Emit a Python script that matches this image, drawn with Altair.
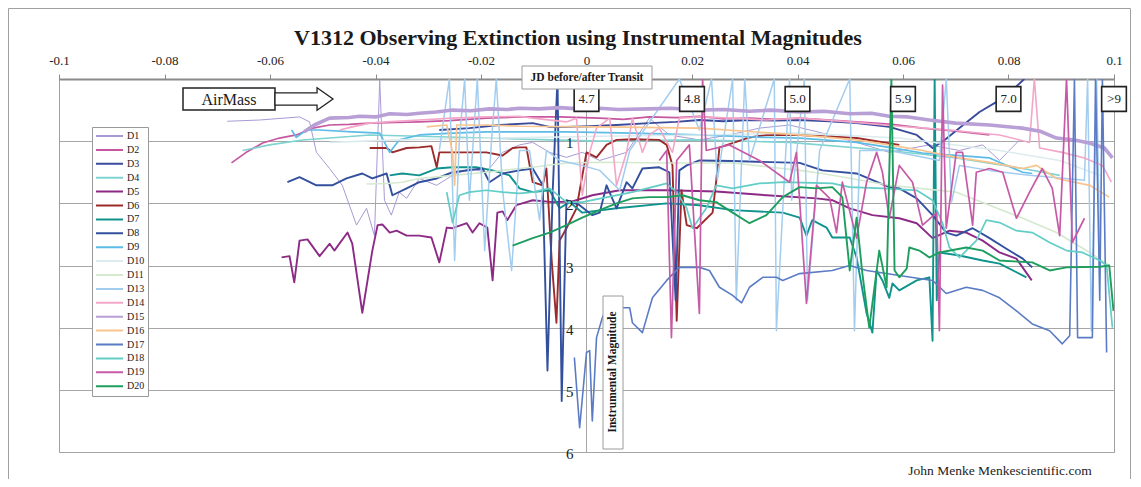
import altair as alt
import pandas as pd

# ---------------- data ----------------
series = ["D1", "D2", "D3", "D4", "D5", "D6", "D7", "D8", "D9", "D10",
          "D11", "D13", "D14", "D15", "D16", "D17", "D18", "D19", "D20"]
colors = ["#a99ad6", "#c7579f", "#3b4b9c", "#7fd3d0", "#8c2a86", "#9c2a2a",
          "#0f938c", "#33509e", "#5cbce6", "#dcecee", "#d5e9cf", "#a3cdef",
          "#f2a6c8", "#b89fd6", "#f8c48e", "#5b7cc5", "#63cdc6", "#c65aa6", "#1e9e5e"]
widths = [1.0, 1.7, 1.9, 1.6, 1.9, 1.9, 1.9, 1.9, 1.7, 1.6,
          1.6, 1.5, 1.6, 3.6, 1.7, 1.6, 1.7, 1.7, 1.9]

d1_x = [-0.0681, -0.0620, -0.0544, -0.0525, -0.0512, -0.0487, -0.0463, -0.0436, -0.0417, -0.0402,
        -0.0392, -0.0383, -0.0370, -0.0355, -0.0341, -0.0317, -0.0284, -0.0254, -0.0222, -0.0190,
        -0.0159, -0.0127, -0.0102, -0.0070, -0.0038, -0.0008, 0.0025, 0.0076, 0.0119, 0.0157,
        0.0214, 0.0271, 0.0328, 0.0385, 0.0461, 0.0512, 0.0574, 0.0650, 0.0707, 0.0751, 0.0783, 0.0821]
d1_y = [0.68, 0.66, 0.61, 0.69, 1.18, 1.44, 1.71, 2.35, 2.08, 2.52,
        0.02, 1.95, 2.19, 1.82, 1.92, 1.60, 1.71, 1.55, 1.44, 1.50,
        1.18, 1.06, 1.02, 1.18, 1.26, 1.18, 1.31, 1.18, 0.63, 0.90,
        0.98, 0.90, 0.79, 0.74, 0.90, 1.02, 1.18, 1.06, 1.15, 1.06, 1.31, 0.98]

d2_x = [-0.0673, -0.0645, -0.0614, -0.0582, -0.0550, -0.0519, -0.0487, -0.0450, -0.0411, -0.0360,
        -0.0317, -0.0260, -0.0190, -0.0127, -0.0051, 0.0025, 0.0070, 0.0119, 0.0170, 0.0214,
        0.0260, 0.0309, 0.0360, 0.0404, 0.0512, 0.0580, 0.0637, 0.0700, 0.0764]
d2_y = [1.35, 1.18, 1.03, 0.95, 0.90, 0.79, 0.74, 0.73, 0.71, 0.70,
        0.69, 0.67, 0.63, 0.61, 0.61, 0.63, 0.65, 0.61, 0.62, 0.60,
        0.64, 0.63, 0.65, 0.63, 0.69, 0.73, 0.79, 0.84, 0.90]

d3_x = [-0.0279, -0.0222, -0.0165, -0.0102, -0.0070, -0.0038, 0.0006, 0.0057, 0.0119, 0.0170,
        0.0214, 0.0260, 0.0309, 0.0360, 0.0404, 0.0460, 0.0512, 0.0574, 0.0626, 0.0656,
        0.0679, 0.0707, 0.0745, 0.0783, 0.0811, 0.0830]
d3_y = [0.82, 0.79, 0.74, 0.71, 0.77, 0.77, 0.76, 0.74, 0.71, 0.69,
        0.66, 0.68, 0.66, 0.67, 0.66, 0.68, 0.71, 0.77, 0.90, 1.11,
        0.98, 0.79, 0.53, 0.34, 0.15, 0.00]

d4_x = [-0.0652, -0.0601, -0.0538, -0.0474, -0.0411, -0.0317, -0.0190, -0.0070, 0.0025, 0.0214,
        0.0385, 0.0574, 0.0701, 0.0827, 0.0897]
d4_y = [1.15, 1.06, 0.98, 0.94, 0.90, 0.92, 0.95, 0.98, 1.00, 0.98,
        1.02, 1.15, 1.27, 1.44, 1.55]

d5_x = [-0.0578, -0.0563, -0.0554, -0.0544, -0.0529, -0.0506, -0.0487, -0.0478, -0.0453, -0.0444,
        -0.0425, -0.0406, -0.0396, -0.0387, -0.0373, -0.0360, -0.0341, -0.0317, -0.0294, -0.0279,
        -0.0265, -0.0254, -0.0227, -0.0216, -0.0203, -0.0188, -0.0178, -0.0169, -0.0159, -0.0150,
        -0.0133, -0.0102, -0.0064, -0.0027, 0.0011, 0.0063, 0.0152, 0.0246, 0.0341, 0.0436,
        0.0466, 0.0499, 0.0542, 0.0593, 0.0626, 0.0656, 0.0688, 0.0720, 0.0751, 0.0783,
        0.0815, 0.0844]
d5_y = [2.87, 2.85, 3.27, 2.60, 2.58, 2.85, 2.65, 2.76, 2.47, 2.65,
        3.76, 2.76, 2.35, 2.34, 2.47, 2.44, 2.52, 2.52, 2.55, 2.95,
        2.39, 2.40, 2.32, 2.47, 2.32, 2.39, 3.24, 2.15, 2.13, 2.27,
        2.03, 1.95, 1.98, 1.97, 1.87, 1.79, 1.79, 1.81, 1.87, 1.92,
        1.95, 2.08, 2.19, 2.24, 2.32, 2.56, 2.44, 2.47, 2.60, 2.79,
        2.89, 3.24]

d6_x = [-0.0411, -0.0379, -0.0368, -0.0341, -0.0317, -0.0294, -0.0284, -0.0279, -0.0254, -0.0190,
        -0.0159, -0.0140, -0.0127, -0.0114, -0.0102, -0.0083, -0.0076, -0.0066, -0.0057, -0.0051,
        -0.0038, -0.0019, 0.0000, 0.0019, 0.0038, 0.0057, 0.0087, 0.0138, 0.0152, 0.0163,
        0.0171, 0.0180, 0.0190, 0.0209, 0.0239, 0.0246, 0.0252, 0.0277, 0.0309, 0.0341,
        0.0404, 0.0512, 0.0593]
d6_y = [1.11, 1.11, 1.18, 1.11, 1.10, 1.08, 1.42, 1.18, 1.18, 1.18,
        1.23, 1.11, 1.10, 1.10, 1.66, 1.71, 1.44, 2.92, 3.92, 2.60,
        2.40, 2.08, 1.18, 1.26, 1.06, 0.98, 0.97, 0.98, 1.06, 1.39,
        3.89, 1.79, 2.35, 2.40, 2.15, 1.63, 1.10, 1.03, 0.94, 0.90,
        0.90, 0.95, 1.06]

d7_x = [-0.0373, -0.0349, -0.0317, -0.0284, -0.0254, -0.0209, -0.0178, -0.0146, -0.0127, -0.0102,
        -0.0070, -0.0051, -0.0032, -0.0008, 0.0057, 0.0152, 0.0214, 0.0277, 0.0372, 0.0404,
        0.0417, 0.0428, 0.0455, 0.0466, 0.0499, 0.0512, 0.0531, 0.0542, 0.0550, 0.0561,
        0.0574, 0.0580, 0.0593, 0.0626, 0.0650, 0.0656, 0.0660, 0.0664, 0.0669, 0.0707,
        0.0751, 0.0783, 0.0834]
d7_y = [1.55, 1.52, 1.55, 1.44, 1.42, 1.42, 1.47, 1.55, 1.76, 1.82,
        1.79, 2.08, 1.98, 2.15, 2.08, 2.00, 2.03, 2.11, 2.15, 2.23,
        2.52, 2.27, 2.39, 2.55, 2.55, 2.87, 3.77, 4.08, 3.08, 3.24,
        3.52, 3.29, 3.40, 3.24, 3.19, 4.21, 0.00, 3.56, 2.79, 2.84,
        2.92, 2.97, 3.19]

d8_x = [-0.0567, -0.0544, -0.0512, -0.0482, -0.0455, -0.0425, -0.0406, -0.0379, -0.0368, -0.0341,
        -0.0317, -0.0284, -0.0254, -0.0197, -0.0184, -0.0159, -0.0127, -0.0102, -0.0083, -0.0074,
        -0.0064, -0.0055, -0.0047, -0.0038, -0.0013, 0.0011, 0.0025, 0.0038, 0.0057, 0.0076,
        0.0087, 0.0106, 0.0138, 0.0157, 0.0169, 0.0176, 0.0190, 0.0214, 0.0277, 0.0404,
        0.0447, 0.0512, 0.0574, 0.0593, 0.0626, 0.0656, 0.0682, 0.0701, 0.0732, 0.0764,
        0.0796, 0.0827, 0.0845]
d8_y = [1.66, 1.58, 1.71, 1.71, 1.60, 1.52, 1.60, 1.52, 1.87, 1.76,
        1.66, 1.60, 1.50, 1.44, 1.66, 1.52, 1.47, 1.44, 1.71, 4.69,
        1.79, 0.00, 5.18, 1.95, 2.03, 2.19, 2.15, 1.71, 2.08, 1.66,
        1.76, 1.44, 1.42, 1.50, 3.56, 1.47, 1.39, 1.31, 1.32, 1.35,
        1.47, 1.52, 1.74, 1.76, 1.92, 2.19, 2.47, 2.52, 2.40, 2.56,
        2.73, 2.89, 3.03]

d9_x = [-0.0559, -0.0550, -0.0531, -0.0506, -0.0444, -0.0392, -0.0373, -0.0355, -0.0317, -0.0254,
        -0.0190, -0.0127, -0.0038, 0.0087, 0.0214, 0.0341, 0.0404, 0.0512, 0.0574, 0.0637,
        0.0701, 0.0764, 0.0827, 0.0845]
d9_y = [0.82, 0.94, 0.82, 0.82, 0.85, 0.87, 1.18, 0.98, 0.90, 0.87,
        0.85, 0.85, 0.85, 0.87, 0.90, 0.94, 0.95, 1.02, 1.10, 1.19,
        1.23, 1.27, 1.50, 1.52]

d10_x = [-0.0487, -0.0355, -0.0165, 0.0025, 0.0214, 0.0404, 0.0593, 0.0783, 0.0897, 0.0973]
d10_y = [1.02, 0.98, 0.95, 0.92, 0.90, 0.87, 0.95, 1.15, 1.31, 1.55]

d11_x = [-0.0417, -0.0379, -0.0349, -0.0317, -0.0254, -0.0190, -0.0127, -0.0102, -0.0038, 0.0025,
         0.0152, 0.0277, 0.0404, 0.0447, 0.0574, 0.0701, 0.0764, 0.0827, 0.0891, 0.0954, 0.0991]
d11_y = [1.69, 1.68, 1.66, 1.60, 1.55, 1.50, 1.44, 1.42, 1.35, 1.34,
         1.35, 1.35, 1.47, 1.52, 1.71, 1.82, 2.03, 2.24, 2.47, 2.79, 3.00]

d13_x = [-0.0279, -0.0260, -0.0250, -0.0241, -0.0231, -0.0222, -0.0207, -0.0193, -0.0180, -0.0171,
         -0.0159, -0.0142, -0.0127, -0.0108, -0.0089, -0.0076, -0.0051, -0.0008, 0.0025, 0.0063,
         0.0082, 0.0176, 0.0214, 0.0237, 0.0248, 0.0277, 0.0284, 0.0300, 0.0309, 0.0356,
         0.0360, 0.0385, 0.0389, 0.0413, 0.0419, 0.0442, 0.0499, 0.0508, 0.0518, 0.0574,
         0.0669, 0.0682, 0.0692, 0.0707, 0.0764, 0.0840, 0.0944, 0.0950, 0.0957, 0.0967, 0.0973]
d13_y = [1.15, 0.00, 2.92, 0.98, 0.00, 1.95, 0.00, 2.76, 0.98, 0.00,
         1.79, 3.08, 1.15, 1.15, 2.27, 1.15, 1.31, 1.39, 1.47, 1.79,
         1.15, 0.00, 0.82, 0.00, 1.63, 0.00, 3.56, 0.00, 1.31, 0.00,
         4.05, 0.00, 1.95, 0.00, 3.56, 1.15, 0.00, 4.05, 1.15, 1.15,
         1.31, 0.00, 1.98, 1.39, 1.47, 1.55, 1.63, 0.00, 4.05, 0.00, 2.76]

d14_x = [-0.0468, -0.0444, -0.0411, -0.0379, -0.0317, -0.0254, -0.0190, -0.0127, -0.0102, -0.0038,
         -0.0019, -0.0008, 0.0006, 0.0019, 0.0044, 0.0057, 0.0076, 0.0087, 0.0106, 0.0119,
         0.0138, 0.0163, 0.0176, 0.0214, 0.0277, 0.0341, 0.0404, 0.0499, 0.0593, 0.0688,
         0.0783, 0.0840, 0.0849, 0.0859, 0.0902, 0.0944, 0.0978, 0.0995]
d14_y = [0.82, 0.77, 0.71, 0.69, 0.66, 0.63, 0.61, 0.60, 0.63, 0.69,
         0.63, 1.87, 1.18, 0.79, 0.63, 1.71, 1.18, 0.63, 1.18, 0.90,
         0.79, 1.18, 0.63, 0.61, 0.63, 0.66, 0.63, 0.69, 0.76, 0.82,
         0.90, 1.02, 0.00, 1.11, 1.18, 1.27, 1.39, 1.66]

d15_x = [-0.0535, -0.0516, -0.0487, -0.0450, -0.0430, -0.0400, -0.0373, -0.0340, -0.0317, -0.0285,
         -0.0254, -0.0220, -0.0184, -0.0150, -0.0127, -0.0090, -0.0051, -0.0015, 0.0025, 0.0060,
         0.0119, 0.0160, 0.0214, 0.0260, 0.0309, 0.0350, 0.0404, 0.0450, 0.0499, 0.0540,
         0.0574, 0.0610, 0.0650, 0.0700, 0.0764, 0.0826, 0.0860, 0.0891, 0.0925, 0.0953,
         0.0982, 0.0997]
d15_y = [0.85, 0.74, 0.63, 0.62, 0.60, 0.61, 0.56, 0.57, 0.55, 0.53,
         0.50, 0.51, 0.48, 0.49, 0.47, 0.48, 0.46, 0.48, 0.47, 0.49,
         0.48, 0.47, 0.50, 0.49, 0.52, 0.50, 0.53, 0.52, 0.56, 0.55,
         0.60, 0.61, 0.66, 0.71, 0.74, 0.79, 0.84, 0.95, 0.98, 1.03,
         1.11, 1.27]

d16_x = [-0.0303, -0.0265, -0.0254, -0.0250, -0.0246, -0.0190, -0.0127, 0.0025, 0.0214, 0.0404,
         0.0512, 0.0574, 0.0637, 0.0701, 0.0764, 0.0827, 0.0853, 0.0891, 0.0954, 0.0991]
d16_y = [0.77, 0.74, 1.18, 1.71, 0.74, 0.74, 0.76, 0.77, 0.79, 0.90,
         0.98, 1.06, 1.15, 1.26, 1.34, 1.44, 1.39, 1.60, 1.71, 1.90]

d17_x = [-0.0023, -0.0013, 0.0000, 0.0006, 0.0011, 0.0019, 0.0030, 0.0038, 0.0082, 0.0087,
         0.0106, 0.0125, 0.0152, 0.0176, 0.0214, 0.0233, 0.0252, 0.0277, 0.0294, 0.0309,
         0.0334, 0.0360, 0.0372, 0.0404, 0.0466, 0.0499, 0.0531, 0.0593, 0.0656, 0.0682,
         0.0720, 0.0751, 0.0783, 0.0815, 0.0845, 0.0878, 0.0902, 0.0916, 0.0925, 0.0931,
         0.0959, 0.0965, 0.0973, 0.0978, 0.0986]
d17_y = [4.48, 5.61, 4.40, 4.37, 5.50, 4.16, 3.84, 3.68, 3.68, 3.92,
         4.08, 3.52, 3.24, 3.03, 3.03, 3.08, 3.35, 3.48, 3.60, 3.35,
         3.19, 3.19, 3.24, 3.13, 3.08, 3.00, 3.08, 3.16, 3.24, 3.45,
         3.35, 3.40, 3.52, 3.73, 3.94, 4.05, 4.26, 4.13, 0.00, 4.16,
         4.16, 0.00, 3.56, 0.00, 4.40]

d18_x = [-0.0265, -0.0254, -0.0241, -0.0222, -0.0190, -0.0159, -0.0127, -0.0102, -0.0070, -0.0038,
         -0.0008, 0.0087, 0.0152, 0.0171, 0.0190, 0.0201, 0.0227, 0.0246, 0.0277, 0.0328,
         0.0372, 0.0466, 0.0499, 0.0561, 0.0626, 0.0656, 0.0675, 0.0688, 0.0707, 0.0720,
         0.0739, 0.0758, 0.0783, 0.0815, 0.0845, 0.0878, 0.0910, 0.0940, 0.0973, 0.0986, 0.0997]
d18_y = [1.82, 2.31, 1.87, 1.82, 1.79, 1.82, 1.84, 1.82, 1.76, 1.98,
         1.98, 1.82, 1.68, 1.82, 2.08, 2.40, 2.08, 1.71, 1.76, 1.68,
         1.66, 1.68, 1.74, 1.76, 1.79, 1.95, 2.32, 2.71, 2.87, 2.76,
         2.60, 2.27, 2.31, 2.44, 2.47, 2.63, 2.76, 2.79, 2.92, 3.00, 4.00]

d19_x = [0.0138, 0.0152, 0.0161, 0.0171, 0.0195, 0.0214, 0.0220, 0.0227, 0.0271, 0.0328,
         0.0385, 0.0398, 0.0417, 0.0436, 0.0461, 0.0474, 0.0485, 0.0512, 0.0531, 0.0550,
         0.0561, 0.0574, 0.0593, 0.0618, 0.0637, 0.0664, 0.0669, 0.0675, 0.0682, 0.0701,
         0.0713, 0.0732, 0.0739, 0.0764, 0.0789, 0.0815, 0.0840, 0.0864, 0.0883, 0.0897,
         0.0910, 0.0921, 0.0944]
d19_y = [1.31, 1.15, 4.16, 1.31, 1.06, 3.77, 0.00, 1.15, 1.06, 1.31,
         1.66, 1.18, 3.61, 1.71, 1.92, 2.47, 1.66, 2.56, 1.66, 1.18,
         1.50, 2.24, 1.39, 1.66, 2.35, 2.15, 4.05, 0.10, 2.40, 1.18,
         1.18, 2.35, 1.50, 1.44, 1.50, 2.24, 1.82, 1.44, 1.76, 2.52,
         0.00, 2.63, 2.24]

d20_x = [-0.0140, -0.0102, -0.0070, -0.0038, -0.0008, 0.0025, 0.0057, 0.0087, 0.0119, 0.0152,
         0.0182, 0.0214, 0.0246, 0.0277, 0.0309, 0.0341, 0.0372, 0.0404, 0.0436, 0.0466,
         0.0485, 0.0499, 0.0512, 0.0523, 0.0536, 0.0555, 0.0569, 0.0578, 0.0584, 0.0593,
         0.0607, 0.0612, 0.0631, 0.0650, 0.0669, 0.0720, 0.0751, 0.0783, 0.0845, 0.0878,
         0.0910, 0.0973, 0.0991, 0.0999]
d20_y = [2.68, 2.56, 2.47, 2.35, 2.23, 2.11, 2.00, 1.92, 1.90, 1.90,
         1.87, 1.95, 1.98, 2.15, 2.32, 2.19, 1.90, 1.74, 1.76, 1.74,
         1.90, 3.08, 2.23, 3.13, 4.00, 2.76, 3.35, 0.00, 3.08, 3.19,
         3.05, 2.71, 2.76, 2.87, 2.79, 2.71, 2.76, 2.92, 2.95, 3.08,
         3.03, 3.02, 3.00, 3.73]

x_ticks = [-0.1, -0.08, -0.06, -0.04, -0.02, 0, 0.02, 0.04, 0.06, 0.08, 0.1]
y_grid = [0, 1, 2, 3, 4, 5, 6]
y_labels_val = [1, 2, 3, 4, 5, 6]
y_labels_txt = ["1", "2", "3", "4", "5", "6"]
airmass_x = [0, 0.02, 0.04, 0.06, 0.08, 0.1]
airmass_txt = ["4.7", "4.8", "5.0", "5.9", "7.0", ">9"]

TITLE = "V1312 Observing Extinction using Instrumental Magnitudes"
X_TITLE = "JD before/after Transit"
Y_TITLE = "Instrumental Magnitude"
FOOTER = "John Menke  Menkescientific.com"

xs_all = [d1_x, d2_x, d3_x, d4_x, d5_x, d6_x, d7_x, d8_x, d9_x, d10_x,
          d11_x, d13_x, d14_x, d15_x, d16_x, d17_x, d18_x, d19_x, d20_x]
ys_all = [d1_y, d2_y, d3_y, d4_y, d5_y, d6_y, d7_y, d8_y, d9_y, d10_y,
          d11_y, d13_y, d14_y, d15_y, d16_y, d17_y, d18_y, d19_y, d20_y]

rows = []
for name, w, xs, ys in zip(series, widths, xs_all, ys_all):
    for i, (xv, yv) in enumerate(zip(xs, ys)):
        rows.append({"series": name, "jd": xv, "mag": yv, "i": i, "w": w})
df = pd.DataFrame(rows)

SERIF = "Liberation Serif"
W, H = 1055, 373

xscale = alt.Scale(domain=[-0.1, 0.1], nice=False, zero=False)
yscale = alt.Scale(domain=[0, 6], reverse=True, nice=False, zero=False)

legend = alt.Legend(
    title=None, orient="none", legendX=33, legendY=48, direction="vertical",
    symbolType="stroke", symbolSize=729, symbolStrokeWidth=2,
    labelFont=SERIF, labelFontSize=10,
    labelColor="#222222", fillColor="white", strokeColor="#999999",
    padding=3, rowPadding=1.9, clipHeight=12, labelOffset=3,
)

lines = alt.Chart(df).mark_line(clip=True, strokeJoin="round").encode(
    x=alt.X("jd:Q", scale=xscale, title=None,
            axis=alt.Axis(orient="top", values=x_ticks, labelExpr="'' + datum.value",
                          labelFont=SERIF, labelFontSize=13, labelColor="#222222",
                          labelPadding=7, labelFlush=False, tickColor="#8a8a8a",
                          tickSize=5, domainColor="#8a8a8a", domainWidth=2,
                          grid=False, zindex=0)),
    y=alt.Y("mag:Q", scale=yscale, title=None,
            axis=alt.Axis(values=y_grid, grid=True, gridColor="#a6a6a6", labels=False,
                          ticks=False, domain=False, zindex=0)),
    color=alt.Color("series:N", scale=alt.Scale(domain=series, range=colors), legend=legend),
    strokeWidth=alt.StrokeWidth("w:Q", scale=None, legend=None),
    order=alt.Order("i:Q"),
)

one = pd.DataFrame({"k": [0]})

yaxis_rule = alt.Chart(one).mark_rule(color="#a6a6a6", strokeWidth=1).encode(
    x=alt.datum(0), y=alt.value(0), y2=alt.value(H))

ylab_df = pd.DataFrame({"mag": y_labels_val, "lab": y_labels_txt})
ylabels = alt.Chart(ylab_df).mark_text(
    align="right", baseline="middle", dx=-13, dy=2, font=SERIF, fontSize=15, color="#222222"
).encode(x=alt.datum(0), y=alt.Y("mag:Q"), text="lab:N")

am_df = pd.DataFrame({"jd": airmass_x, "lab": airmass_txt})
am_boxes = alt.Chart(am_df).mark_point(
    shape="square", size=610, filled=True, fill="white", stroke="#222222",
    strokeWidth=1.6, opacity=1
).encode(x="jd:Q", y=alt.value(20))
am_text = alt.Chart(am_df).mark_text(
    font=SERIF, fontSize=13, color="#222222", baseline="middle"
).encode(x="jd:Q", y=alt.value(20), text="lab:N")

title = alt.Chart(one).mark_text(
    text=TITLE, font=SERIF, fontSize=22, fontWeight="bold", color="#1a1a1a",
    align="center", baseline="middle"
).encode(x=alt.value(519), y=alt.value(-41))

xt_box = alt.Chart(one).mark_rect(fill="white", stroke="#9a9a9a", strokeWidth=1).encode(
    x=alt.value(463), x2=alt.value(593), y=alt.value(-13), y2=alt.value(10))
xt_text = alt.Chart(one).mark_text(
    text=X_TITLE, font=SERIF, fontSize=11.5, fontWeight="bold", color="#1a1a1a",
    align="center", baseline="middle"
).encode(x=alt.value(528), y=alt.value(-1))

yt_box = alt.Chart(one).mark_rect(fill="white", stroke="#9a9a9a", strokeWidth=1).encode(
    x=alt.value(544), x2=alt.value(564), y=alt.value(217), y2=alt.value(370))
yt_text = alt.Chart(one).mark_text(
    text=Y_TITLE, font=SERIF, fontSize=11.5, fontWeight="bold", color="#1a1a1a",
    align="center", baseline="middle", angle=270
).encode(x=alt.value(554), y=alt.value(293))

air_box = alt.Chart(one).mark_rect(fill="white", stroke="#222222", strokeWidth=1.5).encode(
    x=alt.value(124), x2=alt.value(216), y=alt.value(9), y2=alt.value(31))
air_text = alt.Chart(one).mark_text(
    text="AirMass", font=SERIF, fontSize=16, color="#1a1a1a", align="center", baseline="middle"
).encode(x=alt.value(170), y=alt.value(21))
ARROW = "M -1 -0.21 L 0.45 -0.21 L 0.45 -0.39 L 1 0 L 0.45 0.39 L 0.45 0.21 L -1 0.21 Z"
air_arrow = alt.Chart(one).mark_point(
    shape=ARROW, size=3364, filled=True, fill="white", stroke="#222222",
    strokeWidth=1.3, opacity=1
).encode(x=alt.value(245), y=alt.value(20))

footer = alt.Chart(one).mark_text(
    text=FOOTER, font=SERIF, fontSize=13.5, color="#222222", align="center",
    baseline="alphabetic"
).encode(x=alt.value(941), y=alt.value(396))

frame_left = alt.Chart(one).mark_rule(color="#a0a0a0", strokeWidth=1).encode(
    x=alt.value(-50.5), y=alt.value(-70.5), y2=alt.value(400))
frame_top = alt.Chart(one).mark_rule(color="#a0a0a0", strokeWidth=1).encode(
    x=alt.value(-50.5), x2=alt.value(1071.5), y=alt.value(-70.5))
frame_right = alt.Chart(one).mark_rule(color="#a0a0a0", strokeWidth=1).encode(
    x=alt.value(1071.5), y=alt.value(-70.5), y2=alt.value(400))

chart = alt.layer(
    frame_left, frame_top, frame_right,
    yaxis_rule, lines, ylabels,
    am_boxes, am_text, xt_box, xt_text, yt_box, yt_text,
    air_box, air_text, air_arrow, title, footer,
).properties(
    width=W, height=H,
    autosize=alt.AutoSizeParams(type="none"),
    padding={"left": 51, "top": 71, "right": 19, "bottom": 27},
    background="white",
).configure_view(stroke="#a0a0a0", strokeWidth=1)

chart.save("out.html", embed_options={"renderer": "svg", "actions": False})
